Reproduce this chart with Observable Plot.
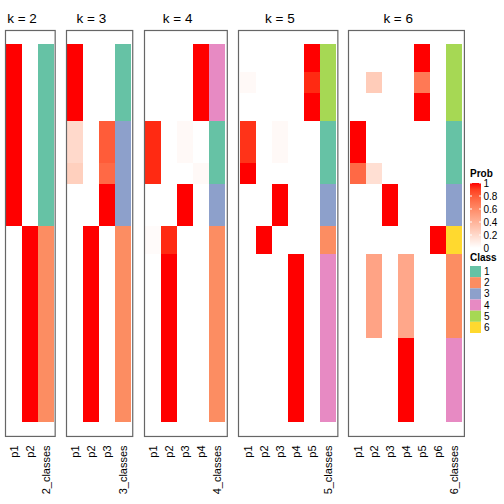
<!DOCTYPE html>
<html>
<head>
<meta charset="utf-8">
<script src="https://cdn.jsdelivr.net/npm/d3@7"></script>
<script src="https://cdn.jsdelivr.net/npm/@observablehq/plot@0.6"></script>
<style>
  body { margin: 0; background: white; }
  #chart { position: relative; width: 504px; height: 504px; font-family: "Liberation Sans", Arial, Helvetica, sans-serif; }
  #chart > svg { position: absolute; top: 0; }
</style>
</head>
<body>
<div id="chart"></div>
<script>
// ---- data ----
// consecutive sample groups (rows) and their sizes
const groupSizes = [4, 3, 4, 6, 3, 6, 4, 12, 12];
const ks = [2, 3, 4, 5, 6];
// membership probabilities per k: one array per column p1..pk, one value per group
const probK2 = [
  [1, 1, 1, 1, 1, 1, 0, 0, 0],
  [0, 0, 0, 0, 0, 0, 1, 1, 1]
];
const probK3 = [
  [1, 1, 1, 0.2, 0.25, 0, 0, 0, 0],
  [0, 0, 0, 0, 0, 0, 1, 1, 1],
  [0, 0, 0, 0.8, 0.75, 1, 0, 0, 0]
];
const probK4 = [
  [0, 0, 0, 0.95, 0.95, 0, 0.02, 0, 0],
  [0, 0, 0, 0, 0, 0, 0.95, 1, 1],
  [0, 0, 0, 0.03, 0, 1, 0, 0, 0],
  [1, 1, 1, 0, 0.03, 0, 0, 0, 0]
];
const probK5 = [
  [0, 0.03, 0, 0.93, 1, 0, 0, 0, 0],
  [0, 0, 0, 0, 0, 0, 1, 0, 0],
  [0, 0, 0, 0.03, 0, 1, 0, 0, 0],
  [0, 0, 0, 0, 0, 0, 0, 1, 1],
  [1, 0.95, 1, 0, 0, 0, 0, 0, 0]
];
const probK6 = [
  [0, 0, 0, 1, 0.75, 0, 0, 0, 0],
  [0, 0.27, 0, 0, 0.17, 0, 0, 0.48, 0],
  [0, 0, 0, 0, 0, 1, 0, 0, 0],
  [0, 0, 0, 0, 0, 0, 0, 0.46, 1],
  [1, 0.68, 1, 0, 0, 0, 0, 0, 0],
  [0, 0, 0, 0, 0, 0, 1, 0, 0]
];
// class per group for each k
const classK2 = [1, 1, 1, 1, 1, 1, 2, 2, 2];
const classK3 = [1, 1, 1, 3, 3, 3, 2, 2, 2];
const classK4 = [4, 4, 4, 1, 1, 3, 2, 2, 2];
const classK5 = [5, 5, 5, 1, 1, 3, 2, 4, 4];
const classK6 = [5, 5, 5, 1, 1, 3, 6, 2, 4];
const classLabels = ["1", "2", "3", "4", "5", "6"];
const classColors = ["#66C2A5", "#FC8D62", "#8DA0CB", "#E78AC3", "#A6D854", "#FFD92F"];
const probTicks = [0, 0.2, 0.4, 0.6, 0.8, 1];

const probs = {2: probK2, 3: probK3, 4: probK4, 5: probK5, 6: probK6};
const classes = {2: classK2, 3: classK3, 4: classK4, 5: classK5, 6: classK6};

// ---- layout ----
const colW = 16.56, gap = 11.3, startX = 5, mL = 2, mR = 2;
const H = 504, mTop = 30, mBottom = 68;
const groupOf = groupSizes.flatMap((n, g) => d3.range(n).map(() => g));
const samples = d3.range(groupOf.length);
const probColor = d3.interpolateLab("white", "red");

const chart = document.getElementById("chart");
let x0 = startX;
ks.forEach((k, idx) => {
  const cols = d3.range(k).map(j => "p" + (j + 1));
  const clsName = k + "_classes";
  const domain = [...cols, clsName];
  const cells = [];
  probs[k].forEach((col, j) => samples.forEach(i => cells.push({x: cols[j], y: i, v: col[groupOf[i]]})));
  const clsCells = samples.map(i => ({x: clsName, y: i, c: classColors[classes[k][groupOf[i]] - 1]}));
  const w = domain.length * colW;
  const svg = Plot.plot({
    width: w + mL + mR,
    height: H,
    marginLeft: mL, marginRight: mR, marginTop: mTop, marginBottom: mBottom,
    style: {fontFamily: '"Liberation Sans", Arial, Helvetica, sans-serif', background: "transparent"},
    x: {domain, padding: 0, axis: null},
    y: {domain: samples, padding: 0, axis: null},
    color: {type: "linear", domain: [0, 1], range: ["white", "red"], interpolate: d3.interpolateLab},
    marks: [
      Plot.cell(cells, {x: "x", y: "y", fill: "v", shapeRendering: "crispEdges"}),
      Plot.cell(clsCells, {x: "x", y: "y", fill: "c", shapeRendering: "crispEdges"}),
      Plot.frame({stroke: "#666", strokeWidth: 1.2}),
      Plot.axisX({tickRotate: -90, tickSize: 0, tickPadding: 9, fontSize: 11, label: null, fill: "#000"}),
      Plot.text(["k = " + k], {text: d => d, frameAnchor: "top", dx: -colW / 2, dy: -7, lineAnchor: "bottom", fontSize: 13.5, fill: "#000"})
    ]
  });
  svg.style.left = (x0 - mL) + "px";
  chart.appendChild(svg);
  x0 += w + gap;
});

// ---- legends ----
const leg = d3.select(chart).append("svg")
  .attr("width", 504).attr("height", 504)
  .style("left", "0px")
  .attr("font-family", '"Liberation Sans", Arial, Helvetica, sans-serif');
const lx = 470, barW = 11;
const py = d3.scaleLinear([0, 1], [248, 183]);
leg.append("text").attr("x", lx).attr("y", 177).attr("font-size", 10).attr("font-weight", "bold").text("Prob");
const grad = leg.append("defs").append("linearGradient").attr("id", "pg")
  .attr("x1", 0).attr("y1", 1).attr("x2", 0).attr("y2", 0);
d3.range(0, 1.0001, 0.1).forEach(t => grad.append("stop").attr("offset", t).attr("stop-color", probColor(t)));
leg.append("rect").attr("x", lx).attr("y", py(1)).attr("width", barW).attr("height", py(0) - py(1)).attr("fill", "url(#pg)");
probTicks.forEach(t => {
  leg.append("line").attr("x1", lx).attr("x2", lx + 2).attr("y1", py(t)).attr("y2", py(t)).attr("stroke", "white");
  leg.append("line").attr("x1", lx + barW - 2).attr("x2", lx + barW).attr("y1", py(t)).attr("y2", py(t)).attr("stroke", "white");
  leg.append("text").attr("x", lx + barW + 2.5).attr("y", py(t)).attr("dy", "0.35em").attr("font-size", 10).text(d3.format("~g")(t));
});
leg.append("text").attr("x", lx).attr("y", 261).attr("font-size", 10).attr("font-weight", "bold").text("Class");
const sy = d3.scaleBand(classLabels, [266, 333]);
classLabels.forEach((c, i) => {
  leg.append("rect").attr("x", lx).attr("y", sy(c)).attr("width", barW).attr("height", sy.bandwidth()).attr("fill", classColors[i]);
  leg.append("text").attr("x", lx + barW + 3).attr("y", sy(c) + sy.bandwidth() / 2).attr("dy", "0.35em").attr("font-size", 10).text(c);
});
</script>
</body>
</html>
